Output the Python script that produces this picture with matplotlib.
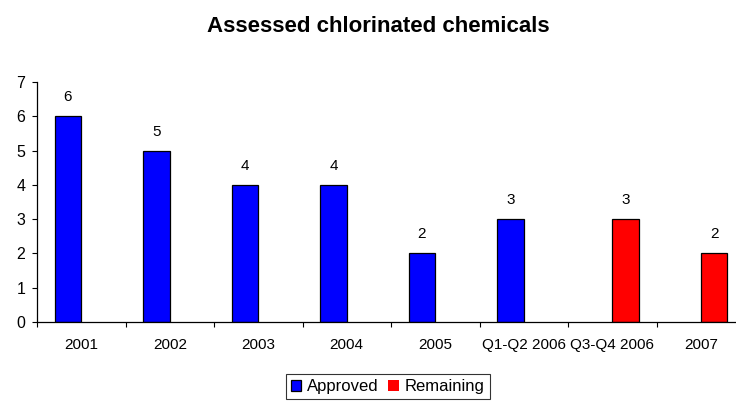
import matplotlib
matplotlib.use("Agg")
import matplotlib.pyplot as plt
import numpy as np

# --- DATA ---
categories = ["2001", "2002", "2003", "2004", "2005",
              "Q1-Q2 2006", "Q3-Q4 2006", "2007"]
approved = [6, 5, 4, 4, 2, 3, 0, 0]
remaining = [0, 0, 0, 0, 0, 0, 3, 2]

# --- STYLE ---
plt.rcParams["font.family"] = ["Liberation Sans", "DejaVu Sans"]
BAR_WIDTH = 0.3
FONT = 11

fig = plt.figure(figsize=(7.36, 4.01), dpi=100)
ax = fig.add_axes([37 / 736, 79 / 401, 708 / 736, 240 / 401])

x = np.arange(len(categories))
series = [("Approved", approved, "#0000FF", -BAR_WIDTH / 2),
          ("Remaining", remaining, "#FF0000", BAR_WIDTH / 2)]

for name, values, color, off in series:
    # empty slots get no outline so they stay invisible
    widths = [0.9 if v else 0 for v in values]
    bars = ax.bar(x + off, values, width=BAR_WIDTH, color=color,
                  edgecolor="black", linewidth=widths, label=name)
    # value labels above the non-empty bars
    for b, v in zip(bars, values):
        if v:
            ax.annotate(str(v), (b.get_x() + b.get_width() / 2, v),
                        xytext=(0, 19), textcoords="offset pixels",
                        ha="center", va="center", fontsize=FONT)

ax.set_xlim(-0.5, len(categories) - 0.5)
ax.set_ylim(0, 7)
ax.set_yticks(range(8))

# ticks between categories, labels at centres
ax.set_xticks(np.arange(len(categories) + 1) - 0.5)
ax.set_xticklabels([])
ax.set_xticks(x, minor=True)
ax.set_xticklabels(categories, minor=True)
ax.tick_params(axis="x", which="major", length=3.5, direction="out")
ax.tick_params(axis="x", which="minor", length=0, pad=11.5, labelsize=FONT)
ax.tick_params(axis="y", length=3.5, pad=5, labelsize=FONT + 0.5)

for s in ["top", "right"]:
    ax.spines[s].set_visible(False)
for s in ["left", "bottom"]:
    ax.spines[s].set_linewidth(0.9)

fig.text(378 / 736, 1 - 27 / 401, "Assessed chlorinated chemicals",
         ha="center", va="center", fontsize=16, fontweight="bold")

leg = fig.legend(loc="upper center", bbox_to_anchor=(387.5 / 736, 1 - 374 / 401),
                 ncol=2, fontsize=FONT + 1, frameon=True, fancybox=False,
                 handlelength=0.65, handleheight=0.65, handletextpad=0.35,
                 columnspacing=0.55, borderpad=0.3, borderaxespad=0,
                 edgecolor="black")
leg.get_frame().set_linewidth(0.8)

fig.savefig("out.png", dpi=100)
